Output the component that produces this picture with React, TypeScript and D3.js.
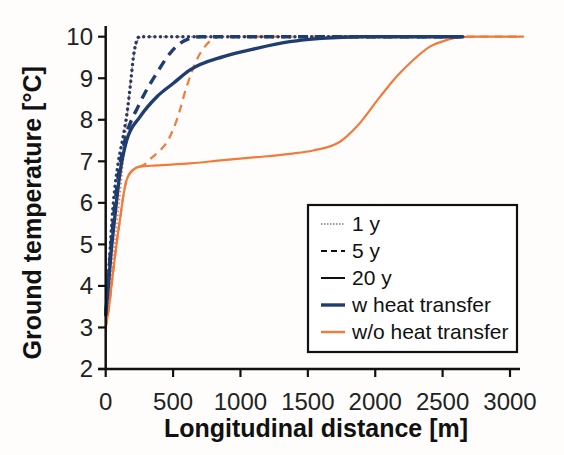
import React from "react";
import * as d3 from "d3";

const xTicks = [0, 500, 1000, 1500, 2000, 2500, 3000];
const yTicks = [2, 3, 4, 5, 6, 7, 8, 9, 10];

// w heat transfer, 1 y
const w1Dist = [0, 25, 54, 90, 130, 160, 185, 205, 225, 250, 2650];
const w1Temp = [3.3, 4.5, 5.9, 6.9, 7.6, 8.2, 8.9, 9.5, 9.85, 10, 10];
// w/o heat transfer, 1 y
const wo1Dist = [0, 30, 60, 100, 130, 155, 180, 205, 230, 265, 3100];
const wo1Temp = [3.0, 3.8, 4.8, 6.0, 7.0, 7.9, 8.8, 9.45, 9.85, 10, 10];
// w heat transfer, 5 y
const w5Dist = [0, 25, 60, 100, 150, 192, 230, 290, 378, 477, 551, 626, 700, 2650];
const w5Temp = [3.3, 4.4, 5.7, 6.8, 7.6, 8.0, 8.25, 8.64, 9.12, 9.6, 9.84, 9.96, 10, 10];
// w/o heat transfer, 5 y
const wo5Dist = [0, 25, 50, 80, 106, 130, 155, 205, 260, 300, 329, 400, 452, 527, 601, 675, 740, 800, 848, 3100];
const wo5Temp = [3.0, 3.5, 4.2, 5.0, 5.6, 6.15, 6.55, 6.8, 6.88, 6.95, 7.05, 7.25, 7.45, 7.99, 8.8, 9.44, 9.78, 9.95, 10, 10];
// w heat transfer, 20 y
const w20Dist = [0, 20, 40, 69, 105, 155, 254, 378, 502, 626, 873, 1120, 1367, 1600, 1900, 2650];
const w20Temp = [3.3, 4.0, 4.8, 5.7, 6.7, 7.5, 8.07, 8.55, 8.88, 9.2, 9.52, 9.72, 9.88, 9.96, 10, 10];
// w/o heat transfer, 20 y
const wo20Dist = [0, 25, 50, 80, 106, 130, 155, 205, 254, 378, 626, 873, 1120, 1367, 1540, 1738, 1862, 2035, 2159, 2282, 2406, 2530, 2626, 2750, 3100];
const wo20Temp = [3.0, 3.5, 4.2, 5.0, 5.6, 6.15, 6.55, 6.8, 6.87, 6.9, 6.95, 7.03, 7.1, 7.18, 7.26, 7.47, 7.83, 8.55, 9.04, 9.44, 9.76, 9.92, 9.99, 10, 10];

const legendLabels = ["1 y", "5 y", "20 y", "w heat transfer", "w/o heat transfer"];

const BLUE = "#1f3d6f";
const ORANGE = "#f27a3a";
const FONT = "'Liberation Sans', Arial, Helvetica, sans-serif";

export default function App() {
  const x = d3.scaleLinear().domain([0, 3000]).range([105.7, 510]);
  const y = d3.scaleLinear().domain([2, 10]).range([369, 36.7]);
  const line = (xs: number[], ys: number[]) =>
    d3
      .line<number>()
      .x((_, i) => x(xs[i]))
      .y((d) => y(d))
      .curve(d3.curveMonotoneX)(ys) || "";

  const series = [
    { d: line(wo20Dist, wo20Temp), c: ORANGE, w: 2.2, dash: "" },
    { d: line(wo5Dist, wo5Temp), c: ORANGE, w: 2.2, dash: "8 6" },
    { d: line(wo1Dist, wo1Temp), c: ORANGE, w: 1.6, dash: "1.5 2.5" },
    { d: line(w20Dist, w20Temp), c: BLUE, w: 3.4, dash: "" },
    { d: line(w5Dist, w5Temp), c: BLUE, w: 3.4, dash: "10 7" },
    { d: line(w1Dist, w1Temp), c: BLUE, w: 3.4, dash: "0.1 5.5", cap: "round" },
  ];

  const axisY = y(2);
  const axisX = x(0);
  const legX = 308, legY = 205, legW = 209, legH = 147;
  const rowY = (i: number) => 224 + i * 27;

  return (
    <svg
      width={564}
      height={455}
      style={{ position: "absolute", left: 0, top: 0, background: "#fff" }}
      fontFamily={FONT}
    >
      <rect x={0} y={0} width={564} height={455} fill="#fefdfc" />
      {series.map((s, i) => (
        <path
          key={i}
          d={s.d}
          fill="none"
          stroke={s.c}
          strokeWidth={s.w}
          strokeDasharray={s.dash || undefined}
          strokeLinecap={(s as any).cap || "butt"}
          strokeLinejoin="round"
        />
      ))}
      {/* axes */}
      <line x1={axisX} x2={axisX} y1={26} y2={axisY} stroke="#111" strokeWidth={2.5} />
      <line x1={98} x2={520} y1={axisY} y2={axisY} stroke="#111" strokeWidth={2.5} />
      {yTicks.map((t) => (
        <g key={"y" + t}>
          <line x1={98} x2={axisX} y1={y(t)} y2={y(t)} stroke="#111" strokeWidth={2.2} />
          <text x={93} y={y(t)} dy="0.35em" textAnchor="end" fontSize={24} fill="#222">
            {t}
          </text>
        </g>
      ))}
      {xTicks.map((t) => (
        <g key={"x" + t}>
          <line x1={x(t)} x2={x(t)} y1={axisY} y2={axisY + 8} stroke="#111" strokeWidth={2.2} />
          <text x={x(t)} y={410} textAnchor="middle" fontSize={24} fill="#222">
            {t}
          </text>
        </g>
      ))}
      <text x={316} y={437} textAnchor="middle" fontSize={25} fontWeight="bold" fill="#111">
        Longitudinal distance [m]
      </text>
      <text
        transform={`translate(41,${(36.7 + 369) / 2 + 10}) rotate(-90)`}
        textAnchor="middle"
        fontSize={25}
        fontWeight="bold"
        fill="#111"
      >
        Ground temperature [°C]
      </text>
      {/* legend */}
      <rect x={legX} y={legY} width={legW} height={legH} fill="#fff" stroke="#111" strokeWidth={2.2} />
      {legendLabels.map((lab, i) => {
        const yy = rowY(i);
        const styles = [
          { c: "#777", w: 1.5, dash: "1.5 1.5" },
          { c: "#111", w: 2, dash: "6 4" },
          { c: "#111", w: 2, dash: "" },
          { c: BLUE, w: 3.4, dash: "" },
          { c: ORANGE, w: 2.4, dash: "" },
        ][i];
        return (
          <g key={lab}>
            <line
              x1={321}
              x2={345}
              y1={yy}
              y2={yy}
              stroke={styles.c}
              strokeWidth={styles.w}
              strokeDasharray={styles.dash || undefined}
            />
            <text x={352} y={yy} dy="0.35em" fontSize={21} fill="#111">
              {lab}
            </text>
          </g>
        );
      })}
    </svg>
  );
}
